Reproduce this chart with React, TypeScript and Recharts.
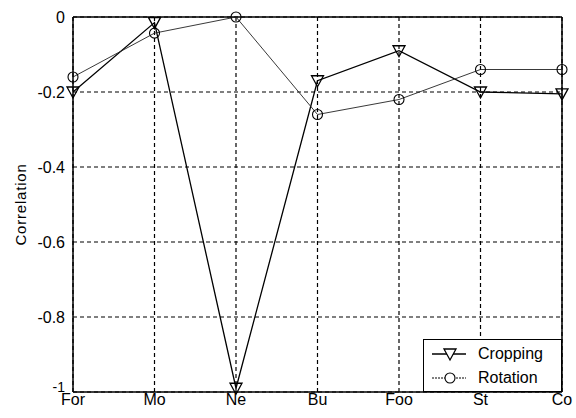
import React from 'react'
import { LineChart, Line, XAxis, YAxis, CartesianGrid, Legend, ReferenceLine } from 'recharts'

const categories = ['For', 'Mo', 'Ne', 'Bu', 'Foo', 'St', 'Co']
const cropping = [-0.2, -0.015, -0.99, -0.17, -0.09, -0.2, -0.205]
const rotation = [-0.16, -0.043, 0, -0.26, -0.22, -0.14, -0.14]
const yTicks = [0, -0.2, -0.4, -0.6, -0.8, -1]

const data = categories.map((name, i) => ({ name, cropping: cropping[i], rotation: rotation[i] }))

const FONT = '"Liberation Sans", Arial, sans-serif'

const TriangleDot = (props: any) => {
  const { cx, cy } = props
  if (cx == null || cy == null) return null
  return (
    <polygon
      key={`t-${cx}`}
      points={`${cx - 6},${cy - 5} ${cx + 6},${cy - 5} ${cx},${cy + 6}`}
      fill="none"
      stroke="#000"
      strokeWidth={1.3}
    />
  )
}

const CircleDot = (props: any) => {
  const { cx, cy } = props
  if (cx == null || cy == null) return null
  return <circle key={`c-${cx}`} cx={cx} cy={cy} r={5} fill="none" stroke="#000" strokeWidth={1.1} />
}

// the bottom "-1" sits a little higher in the original so it clears "For"
const YTick = (props: any) => {
  const { x, y, payload } = props
  const last = payload.value === -1
  return (
    <text
      x={x}
      y={last ? y - 5 : y}
      dy="0.355em"
      textAnchor="end"
      fill="#000"
      fontSize={last ? 14 : 16}
      fontFamily={FONT}
    >
      {payload.value}
    </text>
  )
}

const LegendBox = () => (
  <div
    style={{
      width: 139,
      height: 53,
      border: '1.5px solid #000',
      boxSizing: 'border-box',
      background: '#fff',
      fontFamily: FONT,
      fontSize: 16,
      color: '#000',
    }}
  >
    <div style={{ display: 'flex', alignItems: 'center', height: 24, marginTop: 2 }}>
      <svg width={50} height={20}>
        <line x1={8} y1={10} x2={42} y2={10} stroke="#000" strokeWidth={1.3} />
        <polygon points="20,5 32,5 26,16" fill="#fff" stroke="#000" strokeWidth={1.3} />
      </svg>
      <span style={{ marginLeft: 4 }}>Cropping</span>
    </div>
    <div style={{ display: 'flex', alignItems: 'center', height: 24 }}>
      <svg width={50} height={20}>
        <line x1={8} y1={10} x2={42} y2={10} stroke="#000" strokeWidth={1} strokeDasharray="2 1" />
        <circle cx={26} cy={10} r={5} fill="#fff" stroke="#000" strokeWidth={1.1} />
      </svg>
      <span style={{ marginLeft: 4 }}>Rotation</span>
    </div>
  </div>
)

export default function App() {
  return (
    <div style={{ position: 'absolute', left: 0, top: 0, background: '#fff' }}>
      <LineChart width={576} height={418} data={data} margin={{ top: 17, right: 14, bottom: 0, left: 13 }}>
        <CartesianGrid stroke="#000" strokeDasharray="4 3" strokeWidth={1.2} />
        <XAxis
          dataKey="name"
          stroke="#000"
          strokeWidth={1.5}
          tickLine={false}
          tickSize={2}
          tickMargin={0}
          height={26}
          interval={0}
          tick={{ fill: '#000', fontSize: 16, fontFamily: FONT }}
        />
        <YAxis
          type="number"
          domain={[-1, 0]}
          ticks={yTicks}
          width={60}
          stroke="#000"
          strokeWidth={1.5}
          tickLine={false}
          interval={0}
          tick={YTick}
          label={{
            value: 'Correlation',
            angle: -90,
            position: 'insideLeft',
            offset: 8,
            style: { textAnchor: 'middle', fill: '#000', fontSize: 15, fontFamily: FONT, letterSpacing: 0.8 },
          }}
        />
        <ReferenceLine y={0} stroke="#000" strokeWidth={1.5} />
        <ReferenceLine x="Co" stroke="#000" strokeWidth={1.5} />
        <Line
          dataKey="cropping"
          stroke="#000"
          strokeWidth={1.3}
          dot={TriangleDot}
          activeDot={false}
          isAnimationActive={false}
        />
        <Line
          dataKey="rotation"
          stroke="#222"
          strokeWidth={0.9}
          dot={CircleDot}
          activeDot={false}
          isAnimationActive={false}
        />
        <Legend
          layout="vertical"
          align="center"
          verticalAlign="middle"
          content={LegendBox}
          wrapperStyle={{ left: 423, top: 339, width: 139, height: 53 }}
        />
      </LineChart>
    </div>
  )
}
